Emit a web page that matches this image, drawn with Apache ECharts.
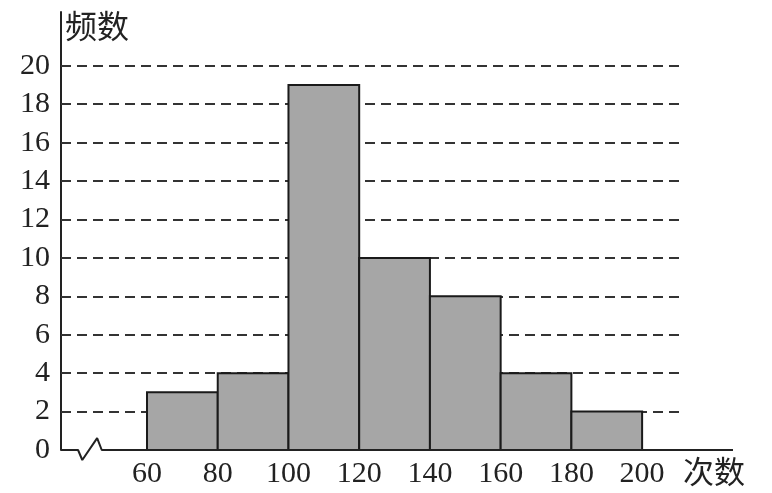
<!DOCTYPE html>
<html>
<head>
<meta charset="utf-8">
<script src="https://cdn.jsdelivr.net/npm/echarts@6/dist/echarts.min.js"></script>
<style>html,body{margin:0;padding:0;background:#fff;}#c{width:772px;height:493px;}</style>
</head>
<body>
<div id="c"></div>
<script>
// Data
var binStarts = [60, 80, 100, 120, 140, 160, 180];
var binWidth = 20;
var counts = [3, 4, 19, 10, 8, 4, 2];
var xTickLabels = [60, 80, 100, 120, 140, 160, 180, 200];
var yTickLabels = [0, 2, 4, 6, 8, 10, 12, 14, 16, 18, 20];
var gridLevels = [2, 4, 6, 8, 10, 12, 14, 16, 18, 20];
var gridLineEnd = 211.9;
// axis baseline with break mark (data coordinates)
var baseline = [[35.68, 0], [40.5, 0], [41.7, -0.52], [45.9, 0.62], [47.2, 0], [225.7, 0]];

var bins = binStarts.map(function (s, i) { return [s, s + binWidth, counts[i]]; });

var serif = '"Liberation Serif", "DejaVu Serif", serif';
var cjk = '"Noto Sans CJK SC", sans-serif';

var chart = echarts.init(document.getElementById('c'));
chart.setOption({
  animation: false,
  backgroundColor: '#fff',
  grid: { left: 61, top: 12, width: 672, height: 438, containLabel: false },
  xAxis: {
    type: 'value', min: 35.68, max: 225.7,
    axisLine: { show: false },
    axisTick: { show: false },
    splitLine: { show: false },
    axisLabel: {
      customValues: xTickLabels,
      color: '#222', fontFamily: serif, fontSize: 30, margin: 9
    }
  },
  yAxis: {
    type: 'value', min: 0, max: 22.8,
    axisLine: { show: true, onZero: false, lineStyle: { color: '#222', width: 2 } },
    axisTick: { show: false },
    splitLine: { show: false },
    axisLabel: {
      customValues: yTickLabels,
      color: '#222', fontFamily: serif, fontSize: 30, margin: 11
    }
  },
  graphic: [
    { type: 'text', left: 65, top: 10, style: { text: '频数', font: '400 32px ' + cjk, fill: '#222' } },
    { type: 'text', left: 683, top: 456, style: { text: '次数', font: '400 31px ' + cjk, fill: '#222' } }
  ],
  series: [
    {
      type: 'line', data: [], silent: true, z: 1,
      markLine: {
        silent: true, symbol: 'none', label: { show: false },
        lineStyle: { color: '#333', width: 2, type: [10, 6] },
        data: gridLevels.map(function (v) {
          return [{ coord: [35.68, v] }, { coord: [gridLineEnd, v] }];
        })
      }
    },
    {
      type: 'custom', z: 5,
      data: bins,
      renderItem: function (params, api) {
        var p0 = api.coord([api.value(0), api.value(2)]);
        var p1 = api.coord([api.value(1), 0]);
        return {
          type: 'rect',
          shape: { x: p0[0], y: p0[1], width: p1[0] - p0[0], height: p1[1] - p0[1] },
          style: { fill: '#a6a6a6', stroke: '#1a1a1a', lineWidth: 2 }
        };
      }
    },
    {
      type: 'line', data: baseline, clip: false, z: 6,
      symbol: 'none', silent: true,
      lineStyle: { color: '#222', width: 2 }
    }
  ]
});
</script>
</body>
</html>
